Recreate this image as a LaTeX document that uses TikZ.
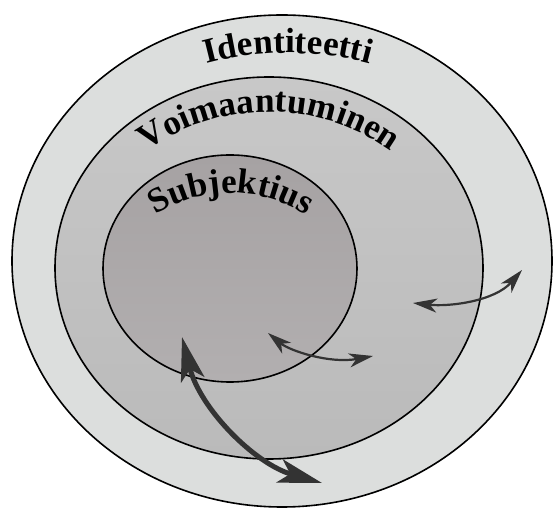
\documentclass[tikz,border=0pt]{standalone}
\usepackage{fontspec}
\setmainfont{Liberation Serif}
\usetikzlibrary{arrows.meta,decorations.text}
\definecolor{outerC}{HTML}{DCDEDD}
\definecolor{midTop}{HTML}{C8C8C8}
\definecolor{midBot}{HTML}{BABABA}
\definecolor{innTop}{HTML}{A6A2A3}
\definecolor{innBot}{HTML}{B2AFB0}
\definecolor{arrC}{HTML}{333333}
\tikzset{
  ring/.style={draw=black, line width=1.6pt},
  ringtext/.style={decorate, decoration={text along path, text align=center,
     text={|\fontsize{35}{35}\bfseries|#1}}},
  smallarrow/.style={draw=arrC, line width=2.2pt,
     {Stealth[length=24pt,width=14pt,inset=7pt]}-{Stealth[length=24pt,width=14pt,inset=7pt]}},
  bigarrow/.style={draw=arrC, line width=5pt,
     {Stealth[length=44pt,width=24pt,inset=11pt]}-{Stealth[length=44pt,width=24pt,inset=11pt]}}
}
\begin{document}
\begin{tikzpicture}[x=1pt,y=1pt]
\useasboundingbox (0,0) rectangle (555,509);
% rings
\path[ring, fill=outerC] (282,248) ellipse [x radius=270, y radius=246];
\path[ring, top color=midTop, bottom color=midBot] (269,241) ellipse [x radius=214, y radius=191];
\path[ring, top color=innTop, bottom color=innBot] (230,240.5) ellipse [x radius=127, y radius=113.5];
% centres of the text arcs
\coordinate (idc) at (288,143);
\coordinate (voc) at (269,187);
\coordinate (suc) at (231,176);
% labels
\path[ringtext={Identiteetti}] (idc) ++(125:313) arc[start angle=125, end angle=55, radius=313];
\path[ringtext={Voimaantuminen}] (voc) ++(145:210) arc[start angle=145, end angle=35, radius=210];
\path[ringtext={Subjektius}] (suc) ++(150:140) arc[start angle=150, end angle=30, radius=140];
% arrows
\coordinate (r1) at (413,206);
\coordinate (r2) at (522,239);
\coordinate (m1) at (268,176);
\coordinate (m2) at (373,153);
\coordinate (b1) at (182,172);
\coordinate (b2) at (322,26);
\draw[smallarrow] (r1) .. controls (450,202) and (495,208) .. (r2);
\draw[smallarrow] (m1) .. controls (290,158) and (330,145) .. (m2);
\draw[bigarrow] (b1) .. controls (200,100) and (255,45) .. (b2);
\end{tikzpicture}
\end{document}
